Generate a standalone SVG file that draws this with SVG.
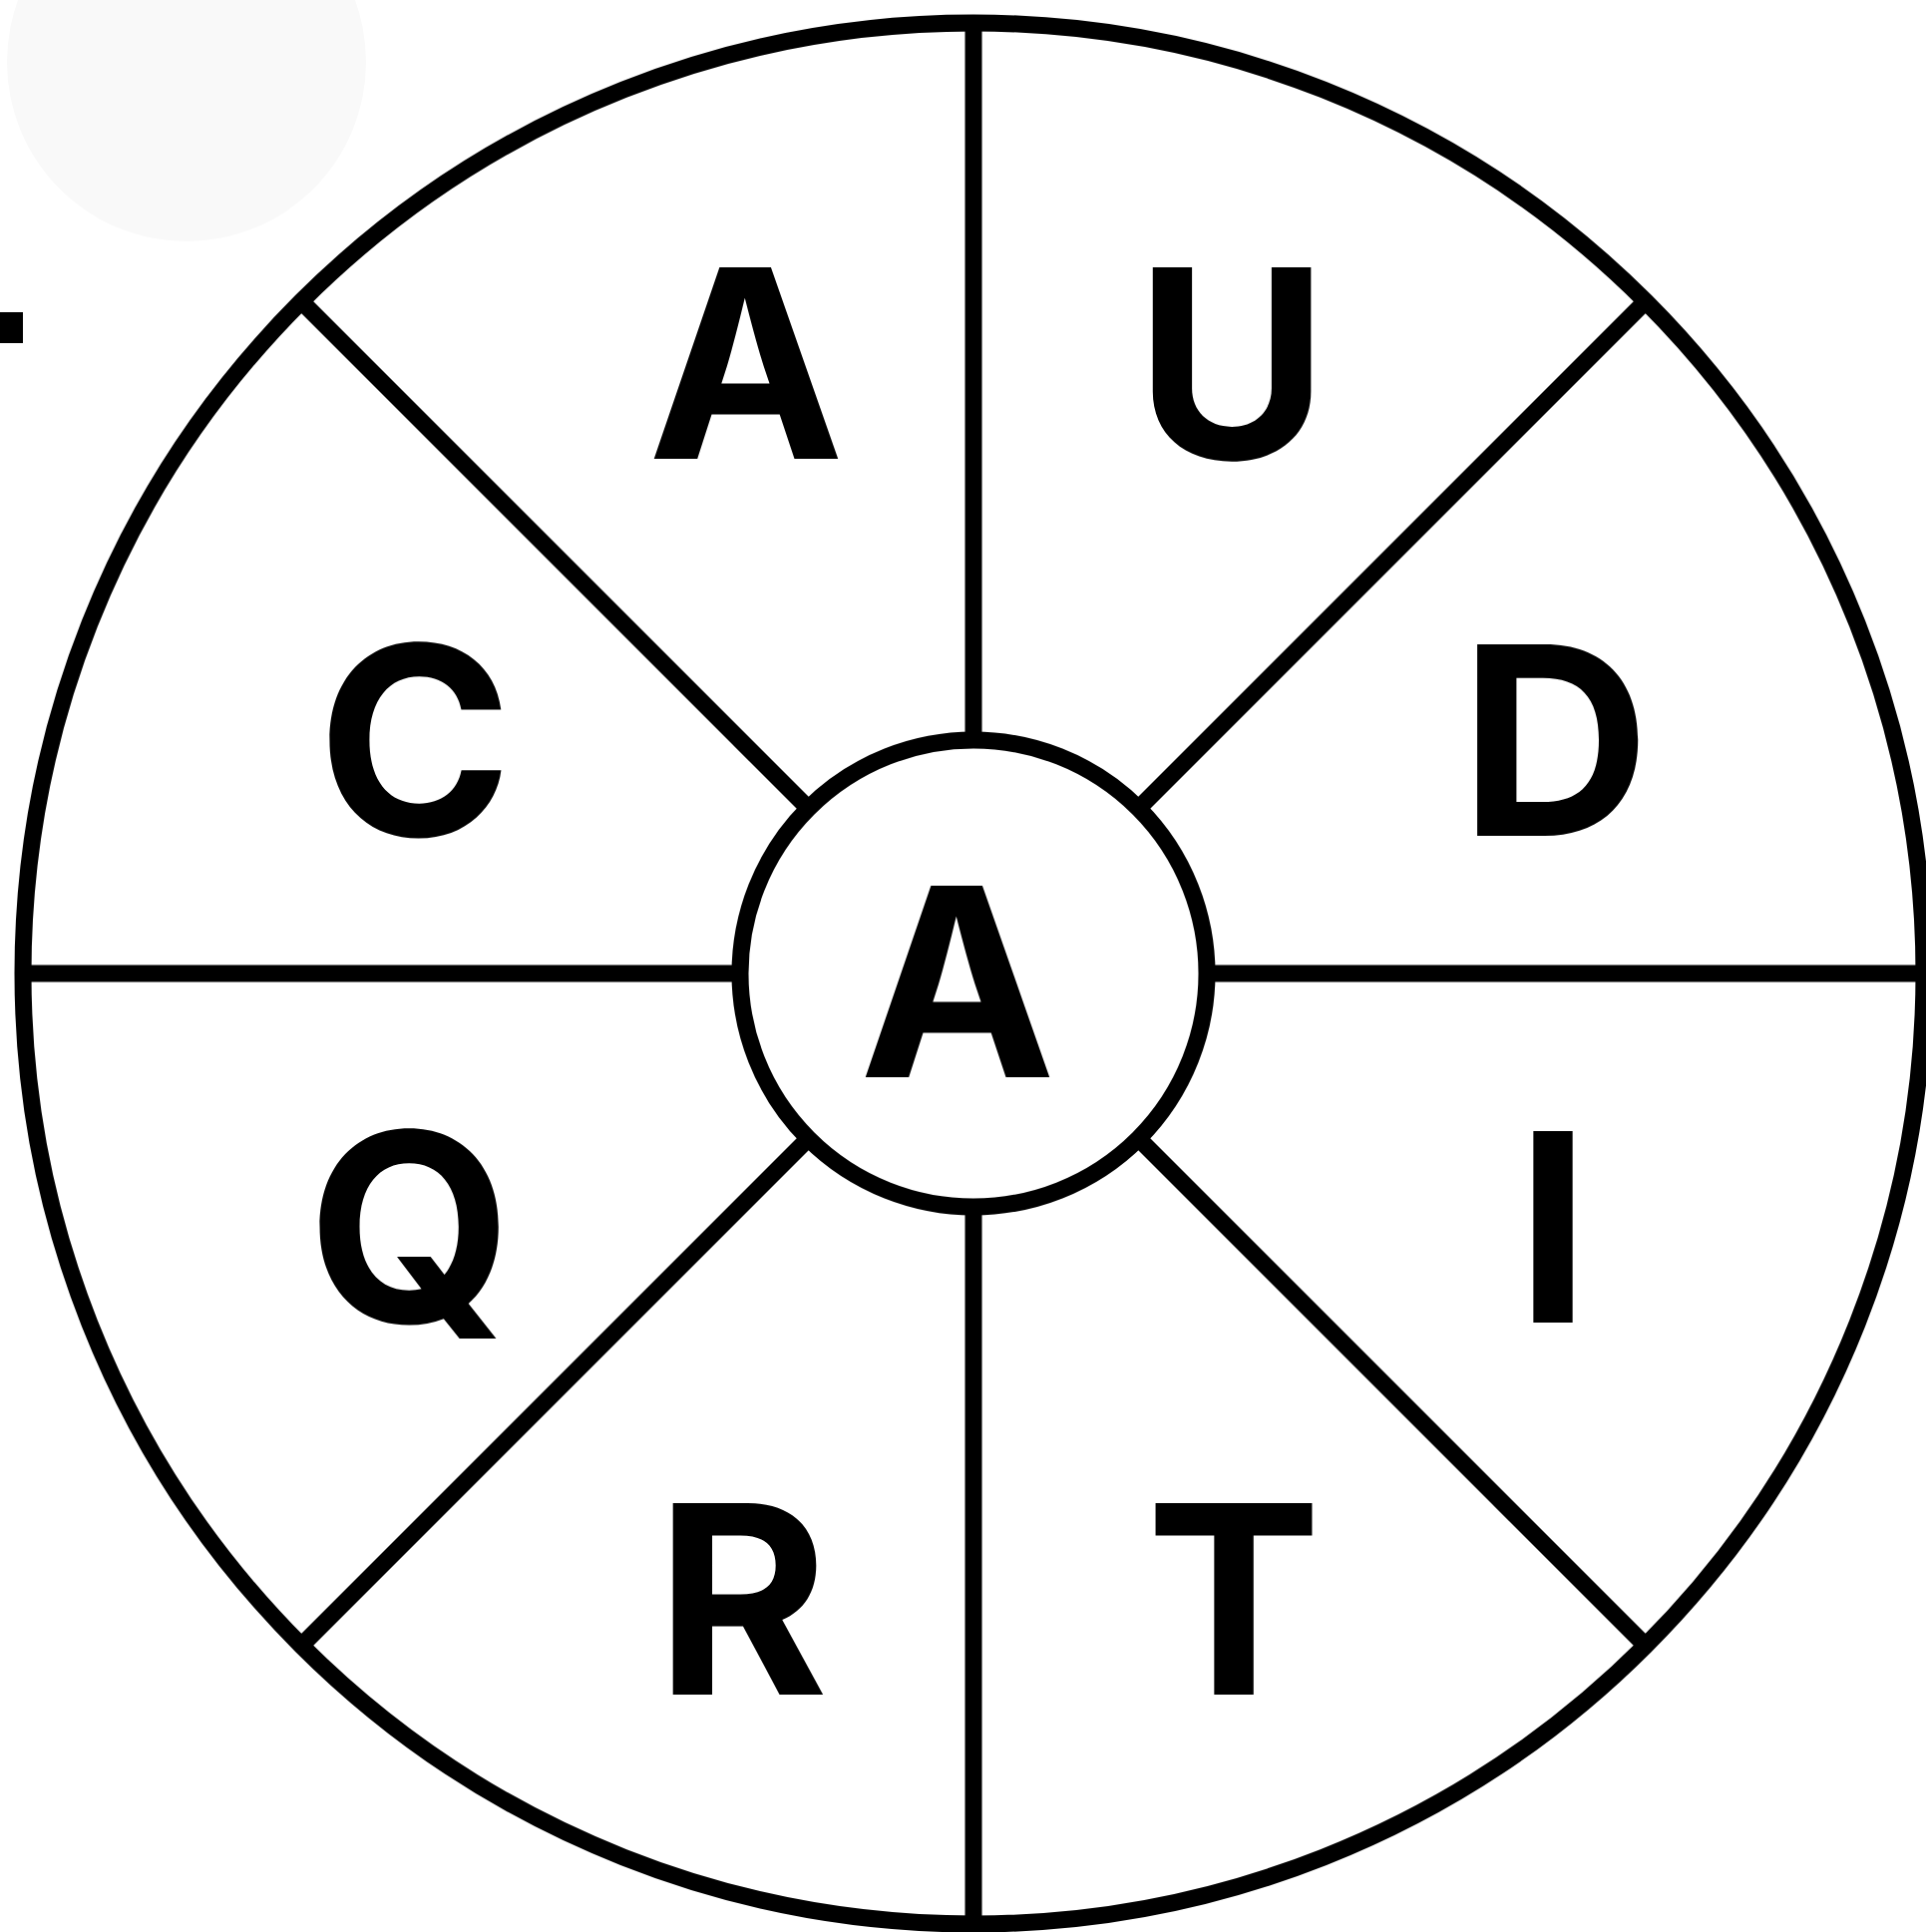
<svg xmlns="http://www.w3.org/2000/svg" width="1931" height="1937" viewBox="0 0 1931 1937">
<style>
.ln{stroke:#000;stroke-width:17;fill:none}
.lt{font-family:Inter,"Liberation Sans",sans-serif;font-weight:700;font-size:264px;fill:#000;text-anchor:middle}
</style>
<rect x="0" y="0" width="1931" height="1937" fill="#fff"/>
<circle cx="187" cy="62" r="180" fill="#f9f9f9"/>
<rect x="0" y="313" width="23" height="31" fill="#000"/>
<g id="wheel">
<circle class="ln" cx="976" cy="976" r="953" fill="#fff"/>
</g>
<g id="connectors">
<line class="ln" x1="976" y1="23" x2="976" y2="742"/>
<line class="ln" x1="976" y1="1210" x2="976" y2="1929"/>
<line class="ln" x1="23" y1="976" x2="742" y2="976"/>
<line class="ln" x1="1210" y1="976" x2="1929" y2="976"/>
<line class="ln" x1="302" y1="302" x2="811" y2="811"/>
<line class="ln" x1="1650" y1="302" x2="1141" y2="811"/>
<line class="ln" x1="302" y1="1650" x2="811" y2="1141"/>
<line class="ln" x1="1650" y1="1650" x2="1141" y2="1141"/>
</g>
<g id="hub">
<circle class="ln" cx="976" cy="976" r="234" fill="#fff"/>
<text class="lt" x="960" y="1080">A</text>
</g>
<g id="seg-a"><text class="lt" x="748" y="460">A</text></g>
<g id="seg-u"><text class="lt" x="1235" y="460">U</text></g>
<g id="seg-d"><text class="lt" x="1559" y="838">D</text></g>
<g id="seg-i"><text class="lt" x="1557" y="1326">I</text></g>
<g id="seg-t"><text class="lt" x="1237" y="1699">T</text></g>
<g id="seg-r"><text class="lt" x="744" y="1699">R</text></g>
<g id="seg-q"><text class="lt" x="411" y="1326">Q</text></g>
<g id="seg-c"><text class="lt" x="416" y="838">C</text></g>
</svg>
